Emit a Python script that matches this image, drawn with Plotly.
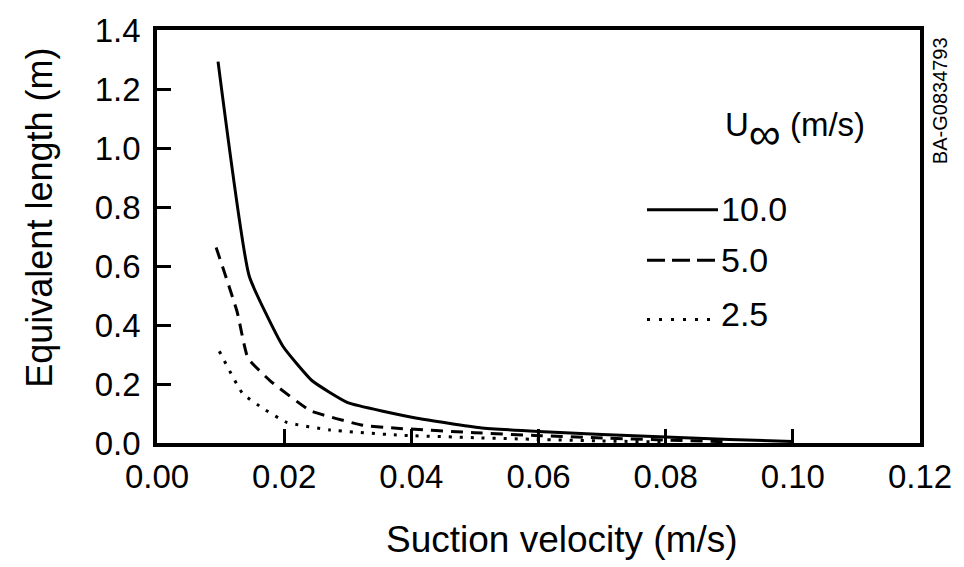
import plotly.graph_objects as go

# Data
x_10 = [0.0096, 0.0145, 0.0198, 0.0244, 0.0300, 0.0409, 0.0508, 0.060, 0.070, 0.080, 0.090, 0.100]
y_10 = [1.293, 0.566, 0.328, 0.211, 0.137, 0.084, 0.052, 0.039, 0.029, 0.020, 0.012, 0.005]

x_5 = [0.0093, 0.0126, 0.0143, 0.0178, 0.0241, 0.0324, 0.0377, 0.050, 0.060, 0.070, 0.080, 0.090]
y_5 = [0.663, 0.445, 0.288, 0.211, 0.110, 0.060, 0.050, 0.035, 0.025, 0.017, 0.010, 0.004]

x_25 = [0.0098, 0.0135, 0.0167, 0.0204, 0.0272, 0.0377, 0.050, 0.060, 0.070, 0.080]
y_25 = [0.311, 0.167, 0.117, 0.070, 0.044, 0.027, 0.018, 0.012, 0.007, 0.003]

x_ticks = [0.00, 0.02, 0.04, 0.06, 0.08, 0.10, 0.12]
x_ticklabels = ["0.00", "0.02", "0.04", "0.06", "0.08", "0.10", "0.12"]
y_ticks = [0.0, 0.2, 0.4, 0.6, 0.8, 1.0, 1.2, 1.4]
y_ticklabels = ["0.0", "0.2", "0.4", "0.6", "0.8", "1.0", "1.2", "1.4"]

series_names = ["10.0", "5.0", "2.5"]
series_dash = ["solid", "12px,8px", "3px,8px"]

FONT = "Liberation Sans, Arial, Helvetica, sans-serif"

fig = go.Figure()
for xs, ys, name, dash in zip([x_10, x_5, x_25], [y_10, y_5, y_25], series_names, series_dash):
    fig.add_trace(go.Scatter(x=xs, y=ys, mode="lines", name=name,
                             line=dict(color="black", width=3, dash=dash, shape="spline", smoothing=0.4),
                             showlegend=False))

# Manual legend (paper coordinates)
L, R, T, B = 157, 920, 25, 443
W, H = R - L, B - T
def px(x):
    return (x - L) / W
def py(y):
    return (B - y) / H

leg_rows = [(207, 206), (258, 258), (318, 312)]
leg_dash = ["solid", "18px,7px", "3px,9px"]
for (ly, ty), name, dash in zip(leg_rows, series_names, leg_dash):
    fig.add_shape(type="line", xref="paper", yref="paper",
                  x0=px(647), x1=px(718), y0=py(ly), y1=py(ly),
                  line=dict(color="black", width=3, dash=dash))
    fig.add_annotation(xref="paper", yref="paper", x=px(719), y=py(ty),
                       xanchor="left", yanchor="middle", showarrow=False,
                       text=name, font=dict(family=FONT, size=34, color="black"))

fig.add_annotation(xref="paper", yref="paper", x=px(723), y=py(128),
                   xanchor="left", yanchor="middle", showarrow=False,
                   text="U<span style='font-size:64px'><sub>∞</sub></span> (m/s)",
                   font=dict(family=FONT, size=33, color="black"))

# Axis titles
fig.add_annotation(xref="paper", yref="paper", x=px(562), y=py(541),
                   xanchor="center", yanchor="middle", showarrow=False,
                   text="Suction velocity (m/s)", font=dict(family=FONT, size=37, color="black"))
fig.add_annotation(xref="paper", yref="paper", x=px(40), y=py(215),
                   xanchor="center", yanchor="middle", showarrow=False, textangle=-90,
                   text="Equivalent length (m)", font=dict(family=FONT, size=36, color="black"))

# Side code
fig.add_annotation(xref="paper", yref="paper", x=px(940), y=py(97),
                   xanchor="center", yanchor="middle", showarrow=False, textangle=-90,
                   text="BA-G0834793", font=dict(family=FONT, size=20, color="black"))

fig.update_layout(
    width=964, height=567,
    margin=dict(l=L, r=964 - R, t=T, b=567 - B),
    paper_bgcolor="white", plot_bgcolor="white",
    font=dict(family=FONT, color="black"),
)
fig.update_xaxes(range=[0, 0.12], tickvals=x_ticks, ticktext=x_ticklabels,
                 showgrid=False, zeroline=False, showline=True, mirror=True,
                 linecolor="black", linewidth=3.5,
                 ticks="inside", ticklen=14, tickwidth=2.5, tickcolor="black",
                 tickfont=dict(family=FONT, size=33, color="black"),
                 ticklabelstandoff=2)
fig.update_yaxes(range=[0, 1.4], tickvals=y_ticks, ticktext=y_ticklabels,
                 showgrid=False, zeroline=False, showline=True, mirror=True,
                 linecolor="black", linewidth=3.5,
                 ticks="inside", ticklen=14, tickwidth=2.5, tickcolor="black",
                 tickfont=dict(family=FONT, size=33, color="black"),
                 ticklabelstandoff=6)

fig.write_html("out.html")
